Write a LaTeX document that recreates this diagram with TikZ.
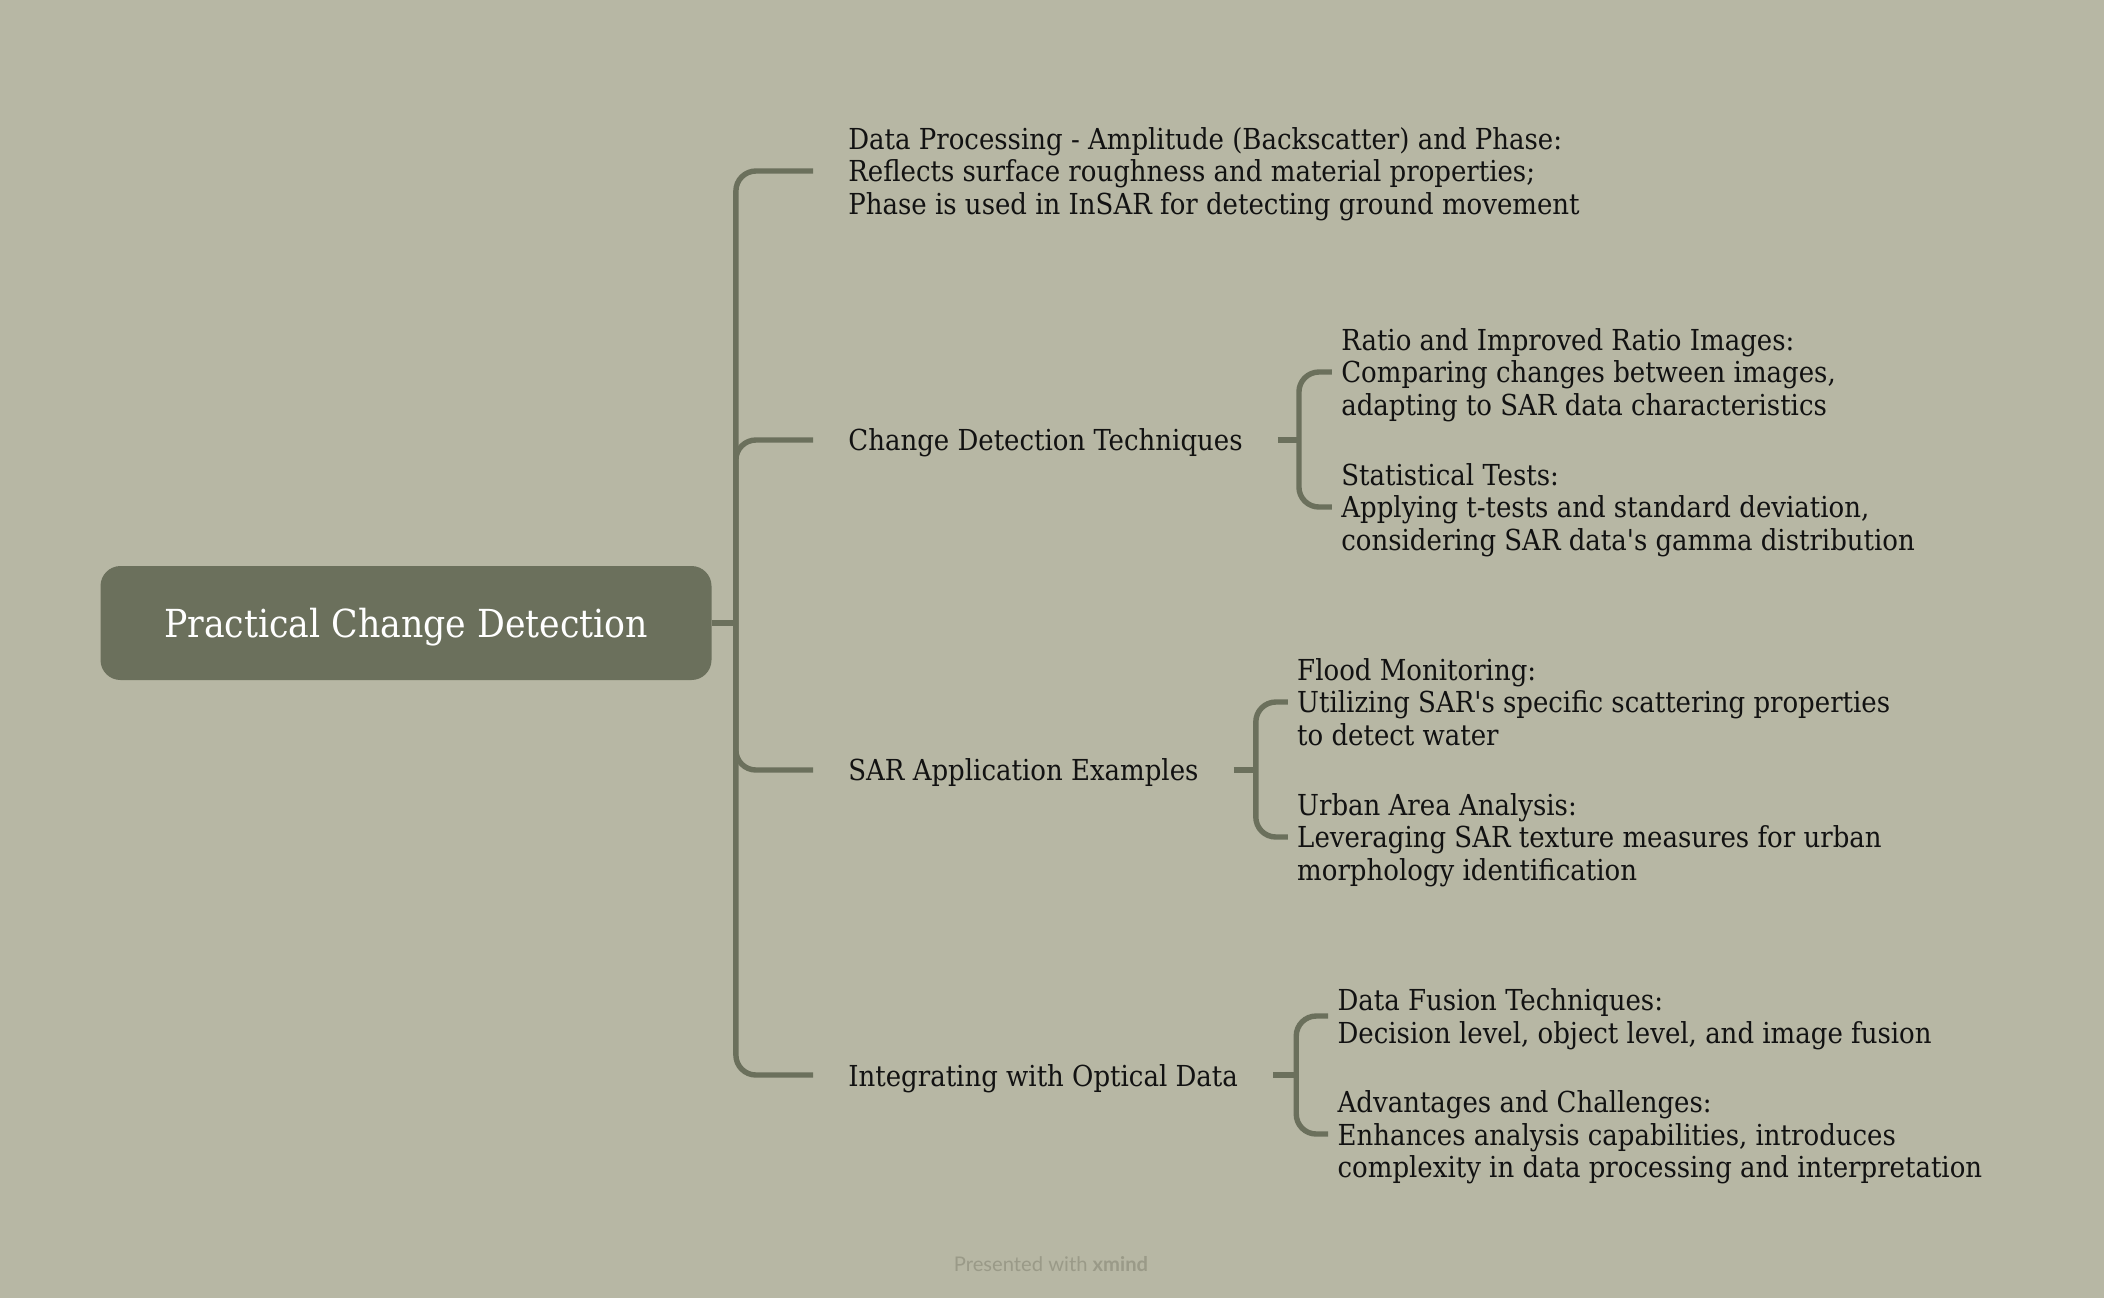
\documentclass[tikz,border=0pt]{standalone}
\usepackage{fontspec}
\setmainfont{DejaVu Serif Condensed}
\newfontfamily\footfont{Lato}
\usetikzlibrary{positioning, calc}
\definecolor{sagebg}{HTML}{B7B7A4}
\definecolor{sagedark}{HTML}{6B705C}
\definecolor{inkdark}{HTML}{121212}
\definecolor{footgray}{HTML}{9A9A88}

\begin{document}
\begin{tikzpicture}[
            x=0.5pt, y=-0.5pt,
            every node/.style={font=\fontsize{14.45}{16.1}\selectfont, text=inkdark, text depth=0pt},
            % Node styles
            root/.style={rectangle, rounded corners=10pt, fill=sagedark, text=white, minimum width=305.5pt, minimum height=57pt, font=\fontsize{19.3}{22}\selectfont},
            topic/.style={anchor=west, inner xsep=17.5pt, inner ysep=2pt, align=left},
            subtopic/.style={anchor=west, inner xsep=4.5pt, inner ysep=2pt, align=left},
            branch/.style={draw=sagedark, line width=2.7pt, rounded corners=10pt}
        ]

            % --- Background ---
            \fill[sagebg] (0,0) rectangle (2104,1298);
            \useasboundingbox (0,0) rectangle (2104,1298);

            % --- Main nodes ---
            \node (root) [root] at (406,623) {Practical Change Detection};
            \coordinate (hub) at ($(root.east)+(24,0)$);

            \node (dp) [topic] at (813,171) {Data Processing - Amplitude (Backscatter) and Phase:\\ Reflects surface roughness and material properties;\\ Phase is used in InSAR for detecting ground movement};
            \node (cdt) [topic] at (813,440) {Change Detection Techniques};
            \node (sar) [topic] at (813,770) {SAR Application Examples};
            \node (opt) [topic] at (813,1075) {Integrating with Optical Data};

            % --- Main branches ---
            \draw [branch] (root.east) -- (hub);
            \draw [branch] (dp.west) -| (hub) |- (opt.west);
            \draw [branch] (hub) |- (cdt.west);
            \draw [branch] (hub) |- (sar.west);

            % --- Change detection techniques ---
            \draw [branch] (cdt.east) -- ++(21,0) coordinate (cdtj);
            \node (ratio) [subtopic] at ($(cdtj)+(33,-68)$) {Ratio and Improved Ratio Images:\\ Comparing changes between images,\\ adapting to SAR data characteristics};
            \node (stat) [subtopic] at ($(cdtj)+(33,67)$) {Statistical Tests:\\ Applying t-tests and standard deviation,\\ considering SAR data\textquotesingle s gamma distribution};
            \draw [branch] (ratio.west) -| (cdtj) |- (stat.west);

            % --- SAR application examples ---
            \draw [branch] (sar.east) -- ++(22,0) coordinate (sarj);
            \node (flood) [subtopic] at ($(sarj)+(32,-68)$) {Flood Monitoring:\\ Utilizing SAR\textquotesingle s specific scattering properties\\ to detect water};
            \node (urban) [subtopic] at ($(sarj)+(32,67)$) {Urban Area Analysis:\\ Leveraging SAR texture measures for urban\\ morphology identification};
            \draw [branch] (flood.west) -| (sarj) |- (urban.west);

            % --- Integrating with optical data ---
            \draw [branch] (opt.east) -- ++(23,0) coordinate (optj);
            \node (fusion) [subtopic] at ($(optj)+(32,-59)$) {Data Fusion Techniques:\\ Decision level, object level, and image fusion};
            \node (adv) [subtopic] at ($(optj)+(32,59)$) {Advantages and Challenges:\\ Enhances analysis capabilities, introduces\\ complexity in data processing and interpretation};
            \draw [branch] (fusion.west) -| (optj) |- (adv.west);

            % --- Footer ---
            \node (credit) [font=\footfont\fontsize{10.1}{12}\selectfont, text=footgray] at (1051,1264) {Presented with \textbf{xmind}};

        \end{tikzpicture}
\end{document}
